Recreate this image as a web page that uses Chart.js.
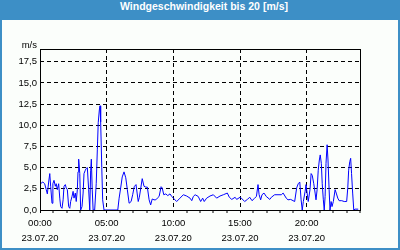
<!DOCTYPE html>
<html>
<head>
<meta charset="utf-8">
<script src="https://cdn.jsdelivr.net/npm/chart.js@4.4.1/dist/chart.umd.min.js"></script>
<style>
  html, body { margin: 0; padding: 0; }
  #frame { position: relative; width: 400px; height: 250px; background: #3d8fc6; }
  #head {
    position: absolute; left: 0; top: 0; width: 392px; padding-left: 8px; height: 20px;
    line-height: 18px; text-align: center; color: #fff;
    font: bold 10.5px "Liberation Sans", Arial, sans-serif;
  }
  #body { position: absolute; left: 2px; top: 20px; width: 396px; height: 228px; background: #fbfefb; }
  #chart { position: absolute; left: 0; top: 0; }
</style>
</head>
<body>
<div id="frame">
  <div id="head">Windgeschwindigkeit bis 20 [m/s]</div>
  <div id="body"></div>
  <canvas id="chart" width="400" height="250"></canvas>
</div>
<script>
// Zeit in Minuten seit 00:00 und Windgeschwindigkeit in m/s
const minutes = [
  0, 6, 13, 21, 28, 33, 39, 44, 48, 54, 58, 63, 69, 73, 78, 84, 89, 93, 99, 104,
  108, 114, 118, 123, 129, 134, 138, 144, 149, 153, 159, 163, 168, 171, 174, 179, 183, 189, 194, 198,
  204, 208, 213, 219, 224, 228, 231, 235, 239, 246, 253, 258, 262, 267, 270, 273, 278, 282, 288, 350,
  356, 363, 370, 378, 386, 393, 401, 410, 417, 424, 432, 437, 442, 447, 453, 460, 468, 476, 483, 491,
  498, 505, 513, 521, 528, 536, 545, 550, 557, 566, 575, 585, 593, 600, 615, 630, 645, 660, 675, 683,
  690, 698, 712, 723, 732, 739, 750, 765, 780, 795, 810, 825, 843, 852, 863, 878, 885, 900, 906, 921,
  933, 944, 954, 966, 974, 981, 986, 993, 999, 1008, 1018, 1034, 1041, 1056, 1071, 1086, 1094, 1108, 1116, 1128,
  1146, 1155, 1162, 1169, 1175, 1180, 1185, 1193, 1197, 1202, 1207, 1215, 1220, 1225, 1232, 1238, 1242, 1247, 1252, 1257,
  1261, 1266, 1270, 1275, 1279, 1283, 1287, 1292, 1296, 1301, 1305, 1310, 1314, 1320, 1328, 1333, 1340, 1346, 1358, 1369,
  1380, 1385, 1389, 1394, 1398, 1402, 1407, 1412, 1418, 1432
];
const speed = [
  3.0, 3.2, 3.3, 3.1, 2.4, 1.9, 3.3, 4.3, 2.8, 0.8, 3.1, 3.5, 2.8, 3.1, 2.4, 3.1, 1.4, 0.4, 0.2, 1.2,
  2.8, 3.0, 2.6, 2.4, 0.4, 0.2, 1.0, 1.6, 2.2, 1.4, 2.0, 1.0, 2.4, 4.5, 6.0, 4.3, 0, 0.4, 2.0, 4.3,
  4.7, 4.9, 5.0, 2.4, 0, 4.7, 6.0, 2.4, 0, 0, 3.1, 7.1, 10.3, 11.8, 12.3, 10.4, 5.0, 1.2, 0, 0,
  1.4, 2.6, 3.9, 4.5, 3.8, 2.4, 0.8, 1.0, 1.8, 2.75, 3.0, 2.0, 1.0, 1.5, 2.5, 3.7, 2.8, 2.7, 2.7, 1.2,
  0.6, 1.3, 1.2, 1.2, 1.4, 1.6, 2.75, 2.6, 1.8, 1.9, 1.7, 1.9, 1.6, 1.4, 1.0, 1.4, 1.8, 1.65, 1.4, 1.1,
  1.6, 1.8, 1.6, 1.0, 1.4, 1.0, 1.4, 1.65, 1.8, 1.4, 1.65, 1.8, 2.0, 1.5, 1.25, 1.5, 1.25, 1.5, 1.4, 1.0,
  1.25, 1.5, 1.1, 1.4, 1.6, 3.0, 1.8, 1.2, 1.8, 2.0, 1.6, 1.25, 1.5, 1.8, 1.8, 1.8, 2.0, 1.4, 1.2, 1.25,
  1.0, 2.6, 3.1, 3.3, 1.2, 0, 1.0, 2.2, 3.0, 2.0, 1.0, 2.4, 4.3, 4.1, 3.1, 2.0, 1.2, 2.4, 4.7, 5.9,
  6.5, 5.5, 3.1, 1.2, 0, 1.6, 5.5, 7.7, 5.9, 2.4, 0, 1.0, 0.4, 1.0, 2.4, 2.0, 1.4, 1.1, 1.1, 1.0,
  1.0, 2.6, 4.7, 5.7, 6.1, 4.3, 2.0, 0, 0.1, 0.1
];
const dateLabel = '23.07.20';
const yMax = 19;
const yStep = 2.5;
const unit = 'm/s';

const tickFont = { family: '"Liberation Sans", Arial, sans-serif', size: 9.5 };

const plotFrame = {
  id: 'plotFrame',
  afterDraw(chart) {
    const { ctx, chartArea: a } = chart;
    ctx.save();
    ctx.strokeStyle = '#000';
    ctx.lineWidth = 1;
    const l = Math.round(a.left) + 0.5, t = Math.round(a.top) + 0.5;
    ctx.strokeRect(l, t, Math.round(a.right) - Math.round(a.left), Math.round(a.bottom) - Math.round(a.top));
    ctx.fillStyle = '#000';
    ctx.font = '9.5px "Liberation Sans", Arial, sans-serif';
    ctx.textAlign = 'right';
    ctx.textBaseline = 'middle';
    ctx.fillText(unit, a.left - 3, a.top - 4);
    ctx.restore();
  }
};

new Chart(document.getElementById('chart'), {
  type: 'line',
  data: {
    datasets: [{
      data: minutes.map((m, i) => ({ x: m, y: speed[i] })),
      borderColor: '#0000ff',
      borderWidth: 1,
      pointRadius: 0,
      tension: 0,
      fill: false
    }]
  },
  options: {
    responsive: false,
    animation: false,
    layout: { padding: { top: 49, right: 40, left: 0, bottom: 0 } },
    plugins: { legend: { display: false }, tooltip: { enabled: false } },
    scales: {
      x: {
        type: 'linear',
        min: 0,
        max: 1440,
        afterFit: s => { s.height = 40; },
        border: { display: false, dash: [4, 3] },
        grid: {
          color: '#000',
          lineWidth: c => (c.tick && c.tick.value % 300 === 0) ? 1 : 0,
          tickColor: '#000',
          tickWidth: 1,
          tickLength: 3,
          drawTicks: true
        },
        ticks: {
          stepSize: 60,
          autoSkip: false,
          maxRotation: 0,
          padding: 3,
          color: '#000',
          font: { ...tickFont, lineHeight: 1.58 },
          callback: v => {
            if (v % 300 !== 0 || v >= 1440) return '';
            const h = String(v / 60).padStart(2, '0');
            return [h + ':00', dateLabel];
          }
        }
      },
      y: {
        min: 0,
        max: yMax,
        afterFit: s => { s.width = 40; },
        border: { display: false, dash: [4, 3] },
        grid: { color: '#000', lineWidth: 1, drawTicks: false },
        ticks: {
          stepSize: yStep,
          includeBounds: false,
          padding: 3,
          color: '#000',
          font: tickFont,
          callback: v => v.toFixed(1).replace('.', ',')
        }
      }
    }
  },
  plugins: [plotFrame]
});
</script>
</body>
</html>
